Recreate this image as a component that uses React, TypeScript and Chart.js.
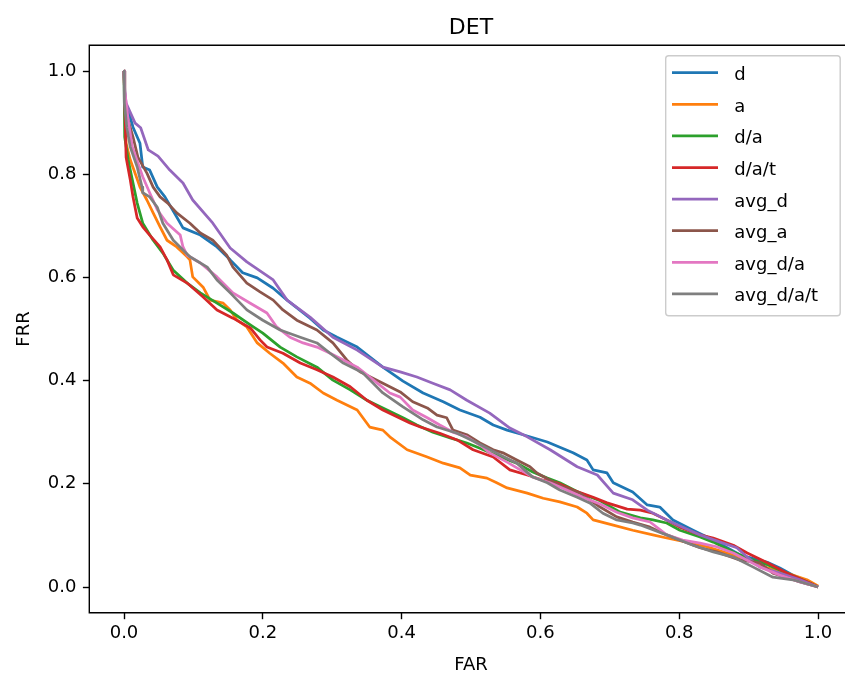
import React, { useEffect, useRef } from "react";
import { Chart, registerables } from "chart.js";

Chart.register(...registerables);

// ---------- data ----------
const TITLE = "DET";
const X_LABEL = "FAR";
const Y_LABEL = "FRR";
const TICK_VALUES = [0, 0.2, 0.4, 0.6, 0.8, 1.0];

const LABELS = ["d", "a", "d/a", "d/a/t", "avg_d", "avg_a", "avg_d/a", "avg_d/a/t"];
const COLORS = ["#1f77b4", "#ff7f0e", "#2ca02c", "#d62728", "#9467bd", "#8c564b", "#e377c2", "#7f7f7f"];

const FAR_D = [0, 0.002, 0.006, 0.013, 0.023, 0.027, 0.037, 0.048, 0.059, 0.076, 0.085, 0.110, 0.134, 0.153, 0.171, 0.192, 0.215, 0.235, 0.268, 0.287, 0.307, 0.336, 0.354, 0.373, 0.402, 0.431, 0.460, 0.484, 0.513, 0.532, 0.552, 0.575, 0.610, 0.628, 0.647, 0.667, 0.676, 0.696, 0.705, 0.733, 0.754, 0.772, 0.791, 0.820, 0.849, 0.888, 0.927, 0.945, 0.964, 0.984, 1.0];
const FRR_D = [1.0, 0.93, 0.924, 0.891, 0.860, 0.814, 0.808, 0.775, 0.756, 0.717, 0.696, 0.682, 0.659, 0.634, 0.609, 0.599, 0.579, 0.556, 0.521, 0.498, 0.484, 0.465, 0.446, 0.426, 0.399, 0.376, 0.359, 0.343, 0.329, 0.314, 0.304, 0.295, 0.281, 0.271, 0.260, 0.246, 0.227, 0.221, 0.202, 0.184, 0.159, 0.155, 0.130, 0.110, 0.091, 0.062, 0.048, 0.037, 0.023, 0.010, 0.0];

const FAR_A = [0, 0.003, 0.009, 0.016, 0.023, 0.033, 0.042, 0.052, 0.062, 0.076, 0.091, 0.095, 0.099, 0.114, 0.124, 0.143, 0.153, 0.163, 0.177, 0.192, 0.210, 0.229, 0.249, 0.268, 0.287, 0.307, 0.336, 0.354, 0.373, 0.383, 0.408, 0.416, 0.437, 0.460, 0.484, 0.499, 0.523, 0.537, 0.552, 0.581, 0.604, 0.628, 0.653, 0.667, 0.676, 0.705, 0.733, 0.762, 0.782, 0.811, 0.840, 0.869, 0.898, 0.927, 0.955, 0.984, 1.0];
const FRR_A = [1.0, 0.86, 0.828, 0.802, 0.775, 0.750, 0.725, 0.698, 0.672, 0.659, 0.640, 0.634, 0.601, 0.581, 0.556, 0.550, 0.537, 0.517, 0.504, 0.473, 0.453, 0.434, 0.407, 0.395, 0.376, 0.362, 0.343, 0.310, 0.304, 0.291, 0.266, 0.262, 0.252, 0.240, 0.231, 0.217, 0.211, 0.202, 0.192, 0.182, 0.172, 0.165, 0.155, 0.143, 0.130, 0.120, 0.110, 0.101, 0.095, 0.087, 0.078, 0.066, 0.052, 0.037, 0.027, 0.014, 0.002];

const FAR_DA = [0, 0.001, 0.006, 0.012, 0.019, 0.027, 0.042, 0.056, 0.071, 0.091, 0.110, 0.134, 0.157, 0.182, 0.200, 0.225, 0.249, 0.278, 0.301, 0.326, 0.350, 0.373, 0.402, 0.422, 0.445, 0.470, 0.494, 0.513, 0.542, 0.566, 0.589, 0.610, 0.628, 0.657, 0.686, 0.715, 0.744, 0.762, 0.782, 0.801, 0.830, 0.849, 0.878, 0.898, 0.927, 0.955, 0.984, 1.0];
const FRR_DA = [1.0, 0.872, 0.828, 0.789, 0.744, 0.705, 0.672, 0.647, 0.614, 0.589, 0.570, 0.550, 0.531, 0.508, 0.492, 0.465, 0.446, 0.426, 0.401, 0.382, 0.362, 0.347, 0.328, 0.314, 0.300, 0.289, 0.279, 0.269, 0.252, 0.240, 0.223, 0.211, 0.202, 0.182, 0.167, 0.145, 0.134, 0.130, 0.124, 0.110, 0.097, 0.087, 0.068, 0.056, 0.043, 0.027, 0.010, 0.0];

const FAR_DAT = [0, 0.001, 0.003, 0.009, 0.013, 0.019, 0.027, 0.037, 0.052, 0.062, 0.071, 0.091, 0.114, 0.134, 0.157, 0.182, 0.196, 0.206, 0.229, 0.254, 0.278, 0.301, 0.326, 0.350, 0.373, 0.412, 0.427, 0.455, 0.480, 0.503, 0.532, 0.556, 0.581, 0.604, 0.624, 0.647, 0.676, 0.696, 0.725, 0.744, 0.762, 0.782, 0.801, 0.830, 0.849, 0.878, 0.898, 0.927, 0.955, 0.984, 1.0];
const FRR_DAT = [1.0, 0.944, 0.833, 0.789, 0.756, 0.715, 0.698, 0.682, 0.659, 0.634, 0.605, 0.589, 0.562, 0.537, 0.521, 0.502, 0.479, 0.465, 0.453, 0.434, 0.421, 0.407, 0.388, 0.362, 0.343, 0.318, 0.310, 0.298, 0.285, 0.266, 0.252, 0.227, 0.217, 0.207, 0.202, 0.188, 0.174, 0.163, 0.151, 0.149, 0.143, 0.130, 0.116, 0.101, 0.095, 0.081, 0.066, 0.047, 0.027, 0.010, 0.0];

const FAR_AVG_D = [0, 0.001, 0.003, 0.016, 0.024, 0.035, 0.049, 0.066, 0.085, 0.099, 0.128, 0.153, 0.177, 0.215, 0.235, 0.268, 0.301, 0.336, 0.373, 0.398, 0.422, 0.445, 0.470, 0.494, 0.527, 0.556, 0.581, 0.614, 0.653, 0.682, 0.705, 0.733, 0.754, 0.782, 0.805, 0.830, 0.859, 0.883, 0.898, 0.916, 0.945, 0.974, 1.0];
const FRR_AVG_D = [1.0, 0.96, 0.938, 0.899, 0.890, 0.847, 0.835, 0.808, 0.783, 0.750, 0.705, 0.657, 0.630, 0.595, 0.556, 0.523, 0.484, 0.459, 0.426, 0.417, 0.407, 0.395, 0.382, 0.362, 0.337, 0.308, 0.291, 0.266, 0.233, 0.217, 0.182, 0.169, 0.149, 0.130, 0.116, 0.101, 0.087, 0.076, 0.058, 0.039, 0.027, 0.014, 0.0];

const FAR_AVG_A = [0, 0.001, 0.006, 0.013, 0.020, 0.033, 0.042, 0.052, 0.063, 0.076, 0.095, 0.110, 0.128, 0.148, 0.157, 0.177, 0.196, 0.215, 0.229, 0.249, 0.278, 0.301, 0.321, 0.340, 0.373, 0.398, 0.416, 0.437, 0.451, 0.465, 0.474, 0.494, 0.513, 0.532, 0.546, 0.566, 0.585, 0.595, 0.614, 0.633, 0.657, 0.686, 0.710, 0.733, 0.758, 0.782, 0.830, 0.854, 0.888, 0.916, 0.935, 0.974, 1.0];
const FRR_AVG_A = [1.0, 0.944, 0.905, 0.872, 0.833, 0.802, 0.775, 0.756, 0.744, 0.725, 0.705, 0.686, 0.672, 0.643, 0.620, 0.589, 0.572, 0.556, 0.537, 0.517, 0.498, 0.473, 0.440, 0.417, 0.395, 0.378, 0.359, 0.347, 0.333, 0.328, 0.304, 0.295, 0.279, 0.266, 0.260, 0.246, 0.233, 0.221, 0.207, 0.194, 0.182, 0.155, 0.136, 0.126, 0.116, 0.101, 0.076, 0.068, 0.052, 0.047, 0.027, 0.010, 0.0];

const FAR_AVG_DA = [0, 0.001, 0.006, 0.012, 0.020, 0.027, 0.037, 0.048, 0.062, 0.081, 0.085, 0.091, 0.110, 0.134, 0.157, 0.182, 0.206, 0.220, 0.239, 0.258, 0.278, 0.297, 0.316, 0.336, 0.365, 0.383, 0.398, 0.416, 0.437, 0.455, 0.474, 0.494, 0.517, 0.527, 0.552, 0.571, 0.589, 0.614, 0.638, 0.661, 0.686, 0.710, 0.733, 0.758, 0.782, 0.805, 0.830, 0.854, 0.878, 0.898, 0.916, 0.945, 0.974, 1.0];
const FRR_AVG_DA = [1.0, 0.963, 0.905, 0.853, 0.822, 0.795, 0.764, 0.731, 0.705, 0.682, 0.659, 0.643, 0.628, 0.601, 0.570, 0.550, 0.531, 0.504, 0.484, 0.473, 0.465, 0.453, 0.440, 0.426, 0.395, 0.376, 0.368, 0.343, 0.328, 0.314, 0.300, 0.291, 0.271, 0.260, 0.242, 0.227, 0.213, 0.202, 0.188, 0.174, 0.161, 0.145, 0.134, 0.126, 0.101, 0.091, 0.085, 0.078, 0.066, 0.052, 0.039, 0.023, 0.010, 0.0];

const FAR_AVG_DAT = [0, 0.0, 0.001, 0.004, 0.009, 0.019, 0.026, 0.027, 0.037, 0.048, 0.056, 0.071, 0.085, 0.095, 0.120, 0.134, 0.153, 0.177, 0.200, 0.225, 0.254, 0.278, 0.297, 0.316, 0.344, 0.373, 0.402, 0.431, 0.451, 0.480, 0.509, 0.542, 0.566, 0.589, 0.610, 0.628, 0.653, 0.671, 0.690, 0.710, 0.733, 0.744, 0.782, 0.820, 0.849, 0.878, 0.906, 0.935, 0.964, 1.0];
const FRR_AVG_DAT = [1.0, 0.95, 0.938, 0.891, 0.853, 0.814, 0.775, 0.764, 0.756, 0.736, 0.705, 0.672, 0.653, 0.640, 0.620, 0.595, 0.570, 0.537, 0.517, 0.498, 0.484, 0.473, 0.453, 0.434, 0.415, 0.376, 0.349, 0.324, 0.310, 0.298, 0.279, 0.256, 0.240, 0.213, 0.202, 0.188, 0.174, 0.163, 0.143, 0.130, 0.124, 0.120, 0.101, 0.081, 0.068, 0.058, 0.039, 0.019, 0.014, 0.0];

const SERIES_FAR = [FAR_D, FAR_A, FAR_DA, FAR_DAT, FAR_AVG_D, FAR_AVG_A, FAR_AVG_DA, FAR_AVG_DAT];
const SERIES_FRR = [FRR_D, FRR_A, FRR_DA, FRR_DAT, FRR_AVG_D, FRR_AVG_A, FRR_AVG_DA, FRR_AVG_DAT];

// ---------- layout ----------
const FONT = "'DejaVu Sans', 'Liberation Sans', sans-serif";
const CANVAS_W = 845;
const CANVAS_H = 675;
const AX_LEFT = 89.3;
const AX_TOP = 45.2;
const AX_BOTTOM = 612.8;
// the original axes box runs past the right edge of the picture (its right spine is cut off);
// the visible part ends at the canvas edge, so the x range is cut at the matching value.
const X_MIN = -0.05;
const X_MAX_VISIBLE = 1.0389;
const Y_MIN = -0.05;
const Y_MAX = 1.05;

const mplPlugin = {
  id: "mplDecor",
  afterDraw(chart: any) {
    const { ctx, chartArea: a } = chart;
    ctx.save();
    // keep the strip at the right edge clean (the right spine is outside the picture)
    ctx.fillStyle = "#ffffff";
    ctx.fillRect(a.right - 3, a.top + 1, 10, a.bottom - a.top - 2);

    // spines: left, top, bottom
    ctx.strokeStyle = "#000";
    ctx.lineWidth = 1.4;
    ctx.beginPath();
    ctx.moveTo(a.right + 5, a.top);
    ctx.lineTo(a.left, a.top);
    ctx.lineTo(a.left, a.bottom);
    ctx.lineTo(a.right + 5, a.bottom);
    ctx.stroke();

    // title and axis labels
    ctx.fillStyle = "#000";
    ctx.textAlign = "center";
    ctx.textBaseline = "alphabetic";
    const cx = 471;
    ctx.font = `22px ${FONT}`;
    ctx.fillText(TITLE, cx, a.top - 11);
    ctx.font = `18px ${FONT}`;
    ctx.fillText(X_LABEL, cx, 670);
    ctx.save();
    ctx.translate(29, (a.top + a.bottom) / 2);
    ctx.rotate(-Math.PI / 2);
    ctx.fillText(Y_LABEL, 0, 0);
    ctx.restore();

    // legend
    const lx = 665.7, ly = 55.7, lw = 174.5, lh = 260;
    ctx.beginPath();
    if (ctx.roundRect) ctx.roundRect(lx, ly, lw, lh, 3);
    else ctx.rect(lx, ly, lw, lh);
    ctx.fillStyle = "rgba(255,255,255,0.8)";
    ctx.fill();
    ctx.strokeStyle = "#cccccc";
    ctx.lineWidth = 1.4;
    ctx.stroke();
    ctx.textAlign = "left";
    ctx.font = `18px ${FONT}`;
    LABELS.forEach((lab, i) => {
      const y = 72.7 + i * 31.6;
      ctx.strokeStyle = COLORS[i];
      ctx.lineWidth = 2.75;
      ctx.beginPath();
      ctx.moveTo(672, y);
      ctx.lineTo(718, y);
      ctx.stroke();
      ctx.fillStyle = "#000";
      ctx.fillText(lab, 734.3, y + 7.5);
    });
    ctx.restore();
  },
};

const axisCommon = (isX: boolean) => ({
  type: "linear" as const,
  min: isX ? X_MIN : Y_MIN,
  max: isX ? X_MAX_VISIBLE : Y_MAX,
  afterBuildTicks: (scale: any) => {
    scale.ticks = TICK_VALUES.map((v) => ({ value: v }));
  },
  afterFit: (scale: any) => {
    if (isX) scale.height = CANVAS_H - AX_BOTTOM;
    else scale.width = AX_LEFT;
  },
  ticks: {
    color: "#000",
    font: { family: FONT, size: 18 },
    padding: isX ? 3 : 6.5,
    maxRotation: 0,
    autoSkip: false,
    callback: (v: any) => Number(v).toFixed(1),
  },
  grid: {
    display: true,
    drawOnChartArea: false,
    drawTicks: true,
    tickLength: 6.4,
    tickColor: "#000",
    tickWidth: 1.4,
  },
  border: { display: false },
  title: { display: false },
});

export default function App() {
  const canvasRef = useRef<HTMLCanvasElement | null>(null);

  useEffect(() => {
    if (!canvasRef.current) return;
    const datasets = LABELS.map((lab, i) => {
      const far = SERIES_FAR[i];
      const frr = SERIES_FRR[i];
      const n = Math.min(far.length, frr.length);
      const data = [];
      for (let k = 0; k < n; k++) data.push({ x: far[k], y: frr[k] });
      return {
        label: lab,
        data,
        showLine: true,
        borderColor: COLORS[i],
        backgroundColor: COLORS[i],
        borderWidth: 2.75,
        pointRadius: 0,
        pointHoverRadius: 0,
        fill: false,
        tension: 0,
        borderJoinStyle: "round" as const,
        borderCapStyle: "butt" as const,
        order: LABELS.length - 1 - i,
      };
    });

    const chart = new Chart(canvasRef.current, {
      type: "scatter",
      data: { datasets },
      options: {
        animation: false,
        responsive: false,
        devicePixelRatio: 1,
        layout: {
          padding: { left: 0, top: AX_TOP, right: 0, bottom: 0 },
        },
        plugins: {
          legend: { display: false },
          title: { display: false },
          tooltip: { enabled: false },
        },
        scales: {
          x: { ...axisCommon(true), position: "bottom" },
          y: { ...axisCommon(false), position: "left" },
        },
      },
      plugins: [mplPlugin],
    });
    return () => chart.destroy();
  }, []);

  return (
    <div
      style={{
        position: "fixed",
        left: 0,
        top: 0,
        width: CANVAS_W,
        height: CANVAS_H,
        overflow: "hidden",
        background: "#fff",
      }}
    >
      <canvas
        ref={canvasRef}
        width={CANVAS_W}
        height={CANVAS_H}
        style={{ width: CANVAS_W, height: CANVAS_H, display: "block" }}
      />
    </div>
  );
}
